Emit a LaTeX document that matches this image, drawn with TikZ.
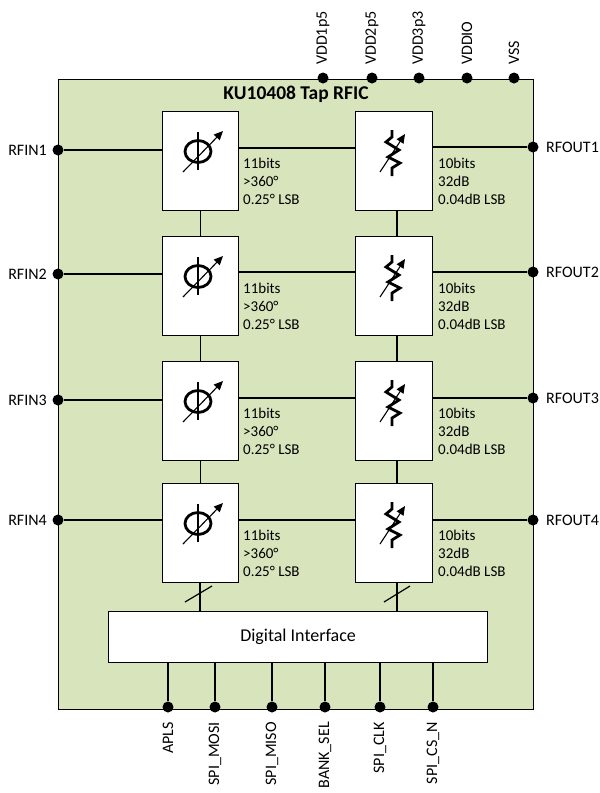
\documentclass[tikz,border=0pt]{standalone}
\usepackage{fontspec}
\setmainfont{Carlito}
\usetikzlibrary{arrows.meta}
\definecolor{chipfill}{HTML}{D8E4BC}
\tikzset{
  x=1pt,y=-1pt,
  wire/.style={line width=1.2pt,black},
  chip/.style={draw=black,line width=1.1pt,fill=chipfill,minimum width=475pt,minimum height=630pt,inner sep=0pt,anchor=north west},
  blockbox/.style={draw=black,line width=1.2pt,fill=white,inner sep=0pt,anchor=north west,minimum height=99pt},
  pin/.style={circle,fill=black,inner sep=0pt,minimum size=11pt},
  lbl/.style={font=\fontsize{16}{18}\selectfont,inner sep=0pt},
  spec/.style={font=\fontsize{15}{17}\selectfont,inner sep=0pt,anchor=west},
  symarrow/.style={line width=1.1pt,black,-{Triangle[length=9pt,width=8pt]}},
  symheavy/.style={line width=2.8pt,black},
}
\begin{document}
\begin{tikzpicture}
\useasboundingbox (0,0) rectangle (600,793);
\node[chip] (chip) at (58,79) {};
\node[font=\fontsize{19.5}{22}\selectfont\bfseries,inner sep=0pt] (title) at (296,94) {KU10408 Tap RFIC};
\foreach \i/\t/\yl/\yr/\ym in {1/111/150/147/148,2/236/274/272/272,3/361/400/398/398,4/483/520/520/520}{
  \node[blockbox,minimum width=76pt] (ph\i) at (162,\t) {};
  \node[blockbox,minimum width=77pt] (at\i) at (355,\t) {};
  \node[pin] (in\i) at (58,\yl) {};
  \node[pin] (out\i) at (533,\yr) {};
  \coordinate (m\i) at (296,\ym);
  \draw[wire] (in\i) -- (in\i -| ph\i.west);
  \draw[wire] (m\i -| ph\i.east) -- (m\i -| at\i.west);
  \draw[wire] (out\i) -- (out\i -| at\i.east);
  \node[lbl,anchor=east] at (47,\yl) {RFIN\i};
  \node[lbl,anchor=west] at (546,\yr) {RFOUT\i};
  \node[spec] at (243,\t+52) {11bits};
  \node[spec] at (243,\t+70) {>360°};
  \node[spec] at (243,\t+88) {0.25° LSB};
  \node[spec] at (438,\t+52) {10bits};
  \node[spec] at (438,\t+70) {32dB};
  \node[spec] at (438,\t+88) {0.04dB LSB};
  \begin{scope}[shift={(0,\t-111)}]
    \draw[symheavy] (198,151.5) ellipse [x radius=13,y radius=11];
    \draw[symheavy] (198,132) -- (198,170);
    \draw[symarrow] (183,172) -- (223,131);
    \draw[symheavy,line join=miter] (392,130) -- (392,137) -- (386,142) -- (399,150) -- (388,157) -- (400,163) -- (392,168) -- (392,176);
    \draw[symarrow] (380,172) -- (405,134);
  \end{scope}
}
\foreach \a/\b in {1/2,2/3,3/4}{
  \draw[wire] (ph\a.south) -- (ph\b.north);
  \draw[wire] (at\a.south -| 397,0) -- (at\b.north -| 397,0);
}
\node[draw=black,line width=1.2pt,fill=white,minimum width=379pt,minimum height=51pt,inner sep=0pt,anchor=north west,font=\fontsize{18}{20}\selectfont] (dig) at (108,611) {Digital Interface};
\coordinate (s1) at (200,583);
\coordinate (s2) at (397,583);
\draw[wire] (s1) -- (s1 |- dig.north);
\draw[wire] (s2) -- (s2 |- dig.north);
\draw[wire] (185,602) -- (212,586);
\draw[wire] (384,602) -- (410,586);
\foreach \x/\n/\lab in {168/a/APLS,215/b/SPI\_MOSI,272/c/SPI\_MISO,325/d/BANK\_SEL,380/e/SPI\_CLK,433/f/SPI\_CS\_N}{
  \node[pin] (p\n) at (\x,707) {};
  \draw[wire] (p\n) -- (p\n |- dig.south);
  \node[lbl,rotate=90,anchor=east] at (\x,722) {\lab};
}
\foreach \x/\n/\lab in {323/a/VDD1p5,372/b/VDD2p5,419/c/VDD3p3,467/d/VDDIO,514/e/VSS}{
  \node[pin] (t\n) at (\x,78) {};
  \node[lbl,rotate=90,anchor=west] at (\x,65) {\lab};
}
\end{tikzpicture}
\end{document}
